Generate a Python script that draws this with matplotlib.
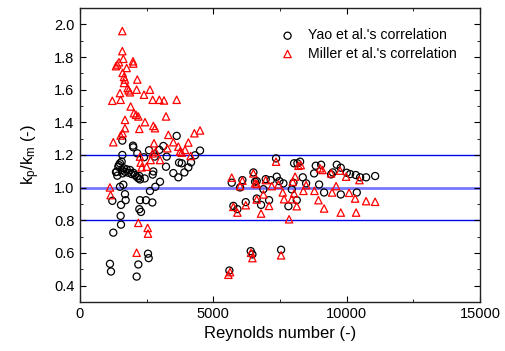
import matplotlib
matplotlib.use("Agg")
import matplotlib.pyplot as plt
from matplotlib.ticker import MultipleLocator

plt.rcParams['font.family'] = ['Liberation Sans', 'DejaVu Sans']
plt.rcParams['mathtext.fontset'] = 'custom'
plt.rcParams['mathtext.rm'] = 'Liberation Sans'
plt.rcParams['mathtext.it'] = 'Liberation Sans'

# Yao et al.'s correlation
yao_re = [1125, 1163, 1250, 1213, 1350, 1400, 1463, 1500, 1525, 1538, 1538, 1588, 1588, 1563,
          1625, 1688, 1713,
          1375, 1438, 1500, 1563, 1600, 1650, 1688, 1750, 1813, 1875, 1938, 2000, 2063, 2125,
          2188, 2250, 2225,
          1988, 2000, 2150, 2125, 2188, 2225, 2288, 2250, 2400, 2425, 2475, 2588, 2550, 2575,
          2625, 2713, 2750, 2725, 2800, 2825, 3000, 2975, 3125, 3250, 3225, 3500, 3625, 3688,
          3713, 3813, 3913, 4063, 4163, 4313, 4500,
          5600, 5688, 5750, 5900, 6000, 6088, 6213, 6400, 6463, 6500, 6563, 6625, 6625, 6788,
          6875, 6963, 7088, 7150, 7350, 7375, 7538, 7475, 7625, 7813, 7938, 8000, 8025, 8150,
          8250, 8125, 8350, 8475, 8775, 8838, 8963, 9038, 9150, 9413, 9475, 9625, 9775, 9775,
          10000, 10125, 10338, 10375, 10500, 10725, 11063]
yao_k = [0.533, 0.486, 0.724, 0.919, 1.095, 1.073, 1.138, 1.005, 0.827, 0.773, 0.894, 1.288, 1.200, 1.159,
         1.018, 0.960, 0.923,
         1.097, 1.128, 1.149, 1.108, 1.087, 1.118, 1.097, 1.112, 1.091, 1.108, 1.083, 1.091, 1.077, 1.067,
         1.057, 1.050, 1.071,
         1.257, 1.247, 1.210, 0.455, 0.529, 0.868, 0.851, 0.923, 1.186, 1.056, 0.923, 1.229, 0.595, 0.568,
         0.979, 0.909, 1.099, 1.080, 1.190, 1.005, 1.036, 1.231, 1.255, 1.190, 1.128, 1.089, 1.317, 1.063,
         1.153, 1.149, 1.093, 1.124, 1.155, 1.198, 1.227,
         0.492, 1.030, 0.888, 0.868, 1.001, 1.046, 0.911, 0.611, 0.591, 1.093, 1.036, 1.040, 0.933, 0.894,
         0.990, 1.052, 0.923, 1.046, 1.179, 1.067, 0.619, 1.040, 1.026, 0.886, 0.989, 1.030, 1.149, 1.149,
         1.159, 0.923, 1.063, 1.026, 1.087, 1.134, 1.019, 1.140, 0.970, 1.081, 1.093, 1.140, 1.122, 0.958,
         1.091, 1.083, 1.077, 0.970, 1.063, 1.063, 1.071]

# Miller et al.'s correlation
mil_re = [1125, 1150, 1213, 1250, 1350, 1400, 1463, 1500, 1525, 1525, 1588, 1588, 1625, 1600, 1650,
          1688, 1650, 1688, 1688, 1600, 1750, 1788, 1825, 1875, 1900, 1988, 2000, 2025, 2100, 2125,
          2150, 2125, 2188, 2188, 2225, 2250, 2275, 2313, 2400, 2438, 2500, 2538, 2550, 2625, 2650,
          2725, 2750, 2813, 2775, 2725, 2838, 2975, 3000, 3150, 3225, 3313, 3275, 3500, 3625, 3688,
          3750, 3813, 3938, 4063, 4150, 4288, 4500,
          5563, 5625, 5688, 5750, 5900, 6000, 6088, 6213, 6413, 6463, 6500, 6563, 6625, 6625, 6788,
          6875, 6963, 7088, 7188, 7350, 7438, 7538, 7600, 7650, 7838, 7938, 7975, 8025, 8063, 8125,
          8188, 8275, 8375, 8475, 8788, 8938, 9000, 9088, 9150, 9450, 9413, 9600, 9750, 9775, 9975,
          10088, 10313, 10350, 10475, 10725, 11063]
mil_k = [1.001, 0.954, 1.532, 1.278, 1.744, 1.754, 1.768, 1.579, 1.538, 1.319, 1.959, 1.836, 1.789, 1.703, 1.678,
         1.662, 1.641, 1.415, 1.364, 1.333, 1.733, 1.610, 1.596, 1.584, 1.497, 1.774, 1.760, 1.456, 1.446, 1.600,
         1.662, 0.601, 0.784, 1.436, 1.360, 1.190, 1.153, 1.124, 1.569, 1.401, 1.128, 0.753, 0.718, 1.600, 1.169,
         1.538, 1.378, 1.364, 1.272, 1.210, 1.220, 1.538, 1.169, 1.534, 1.436, 1.323, 1.241, 1.278, 1.538, 1.251,
         1.221, 1.214, 1.231, 1.276, 1.194, 1.333, 1.350,
         0.466, 0.482, 1.061, 0.882, 0.847, 1.009, 1.042, 0.892, 0.601, 0.568, 1.087, 1.026, 1.022, 0.927, 0.841,
         0.958, 1.046, 0.888, 1.009, 1.159, 1.019, 0.585, 0.970, 0.929, 0.806, 0.929, 1.036, 0.964, 1.067, 0.886,
         1.134, 1.138, 0.980, 1.015, 0.980, 0.923, 1.118, 1.108, 0.872, 0.970, 1.087, 1.009, 1.104, 0.847, 1.067,
         0.968, 0.933, 0.847, 1.046, 0.917, 0.913]

ref_lines = [1.2, 1.0, 0.8]

fig = plt.figure(figsize=(5.06, 3.51), dpi=100)
ax = fig.add_axes([0.158, 0.140, 0.791, 0.837])

ax.axhline(ref_lines[0], color='#0000ee', lw=1.0, zorder=1)
ax.axhline(ref_lines[1], color='#7777ff', lw=2.0, zorder=1)
ax.axhline(ref_lines[2], color='#0000ee', lw=1.0, zorder=1)

ax.scatter(yao_re, yao_k, s=26, marker='o', facecolors='none', edgecolors='black',
           linewidths=0.9, label="Yao et al.'s correlation", zorder=3)
ax.scatter(mil_re, mil_k, s=28, marker='^', facecolors='none', edgecolors='red',
           linewidths=0.9, label="Miller et al.'s correlation", zorder=3)

ax.set_xlim(0, 15000)
ax.set_ylim(0.3, 2.1)
ax.xaxis.set_major_locator(MultipleLocator(5000))
ax.xaxis.set_minor_locator(MultipleLocator(2500))
ax.yaxis.set_major_locator(MultipleLocator(0.2))
ax.yaxis.set_minor_locator(MultipleLocator(0.1))
ax.set_yticks([0.4, 0.6, 0.8, 1.0, 1.2, 1.4, 1.6, 1.8, 2.0])
ax.tick_params(which='both', direction='in', top=True, right=True, labelsize=10.5)
ax.tick_params(which='major', length=4, pad=4)
ax.tick_params(which='minor', length=2.5)
for s in ax.spines.values():
    s.set_linewidth(1.0)
    s.set_color('#222222')

ax.set_xlabel('Reynolds number (-)', fontsize=12, labelpad=3)
ax.set_ylabel(r'$\mathregular{k_p/k_m}$ (-)', fontsize=12, labelpad=9)

ax.legend(loc='upper left', bbox_to_anchor=(0.478, 0.95), frameon=False, fontsize=10.2,
          handletextpad=0.7, borderaxespad=0.0, labelspacing=0.3, handlelength=1.5)

fig.savefig('out.png', dpi=100)
